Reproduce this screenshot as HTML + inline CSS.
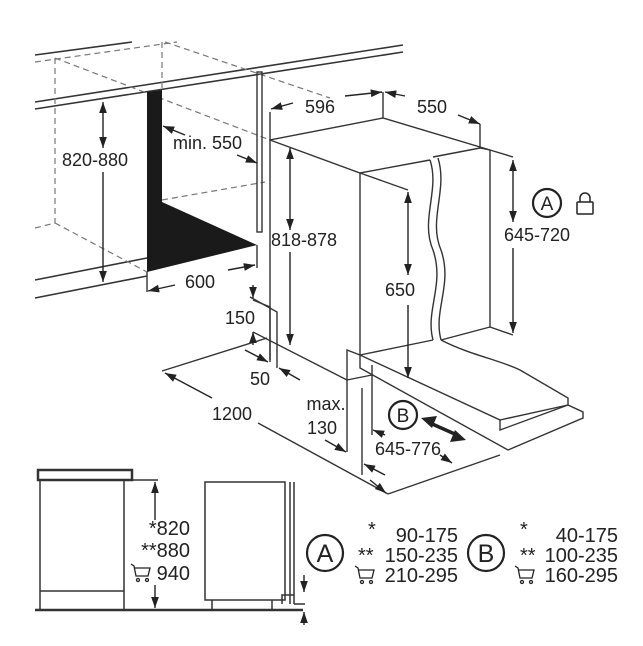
<!DOCTYPE html>
<html><head><meta charset="utf-8"><style>
html,body{margin:0;padding:0;background:#fff}
svg{display:block}
text{font-family:"Liberation Sans",sans-serif;fill:#222}
</style></head><body>
<svg width="643" height="646" viewBox="0 0 643 646" xmlns="http://www.w3.org/2000/svg">
<defs>
<marker id="a" viewBox="0 0 10 10" refX="10" refY="5" markerWidth="8" markerHeight="8" orient="auto-start-reverse"><path d="M0,1.5 L10,5 L0,8.5 Z" fill="#222"/></marker>
</defs>
<g stroke="#333" stroke-width="1.6" fill="none">
<line x1="35" y1="55" x2="132" y2="42"/>
<line x1="35" y1="102" x2="403" y2="45"/>
<line x1="35" y1="109" x2="403" y2="52"/>
<line x1="35" y1="280" x2="147" y2="258"/>
<line x1="35" y1="298" x2="147" y2="276"/>
</g>
<g stroke="#777" stroke-width="1.2" fill="none" stroke-dasharray="6,4">
<line x1="35" y1="62" x2="177" y2="42"/>
<line x1="55" y1="58" x2="55" y2="223"/>
<line x1="162" y1="42" x2="162" y2="90"/>
<line x1="55" y1="58" x2="270" y2="140"/>
<line x1="165" y1="42" x2="330" y2="98"/>
<line x1="35" y1="228" x2="55" y2="223"/>
<line x1="55" y1="223" x2="147" y2="272"/>
<line x1="162" y1="200" x2="265" y2="182"/>
</g>
<polygon points="147,92 162,90 162,202 257,245 147,272" fill="#1a1a1a"/>
<g stroke="#333" stroke-width="1.4" fill="none">
<rect x="257" y="72" width="5" height="160"/>
<line x1="147" y1="272" x2="147" y2="292"/>
<line x1="257" y1="245" x2="257" y2="268"/>
<polyline points="270,360 270,140 383,118 490,150 490,327"/>
<polyline points="270,140 360,173 430,160"/>
<line x1="360" y1="173" x2="360" y2="355"/>
<line x1="383" y1="118" x2="383" y2="92"/>
<line x1="270" y1="140" x2="270" y2="112"/>
<line x1="480" y1="148" x2="480" y2="124"/>
<path d="M430,160 C440,190 420,220 433,250 C445,285 425,310 433,340"/>
<path d="M438,158 C448,190 428,220 441,250 C453,285 433,310 441,340"/>
<path d="M433,157 L480,148 L490,150"/>
<line x1="441" y1="340" x2="490" y2="327"/>
<line x1="360" y1="355" x2="433" y2="340"/>
<line x1="490" y1="327" x2="513" y2="335"/>
<line x1="490" y1="150" x2="513" y2="157"/>
<line x1="360" y1="173" x2="408" y2="190"/>
<path d="M441,340 C470,355 500,360 520,370 L568,398 L568,405 L500,420"/>
<polygon points="360,355 500,420 500,430 568,405 583,412 583,418 508,450 360,368" />
<line x1="372" y1="365" x2="372" y2="380"/>
<polyline points="347,380 347,350 360,355"/>
<line x1="347" y1="380" x2="372" y2="375"/>
<line x1="253" y1="332" x2="347" y2="380"/>
<polyline points="162,371 267,338"/>
<line x1="258" y1="423" x2="388" y2="494"/>
<line x1="388" y1="494" x2="500" y2="455"/>
<line x1="347" y1="380" x2="347" y2="452"/>
<line x1="362" y1="388" x2="362" y2="475"/>
<line x1="372" y1="380" x2="372" y2="435"/>
<polyline points="253,300 270,307 270,362"/>
<polyline points="250,297 277,312 277,368"/>
</g>
<g stroke="#222" stroke-width="1.4" fill="none" marker-end="url(#a)" marker-start="url(#a)">
<line x1="103" y1="102" x2="103" y2="148"/>
<line x1="290" y1="148" x2="290" y2="230"/>
<line x1="513" y1="160" x2="513" y2="222"/>
<line x1="408" y1="192" x2="408" y2="275"/>
</g>
<g stroke="#222" stroke-width="1.4" fill="none" marker-end="url(#a)">
<line x1="103" y1="172" x2="103" y2="282"/>
<line x1="290" y1="252" x2="290" y2="345"/>
<line x1="513" y1="248" x2="513" y2="333"/>
<line x1="408" y1="305" x2="408" y2="378"/>
<line x1="185" y1="135" x2="163" y2="126"/>
<line x1="237" y1="155" x2="257" y2="163"/>
<line x1="175" y1="285" x2="148" y2="291"/>
<line x1="228" y1="270" x2="255" y2="265"/>
<line x1="293" y1="103" x2="271" y2="109"/>
<line x1="345" y1="96" x2="382" y2="92"/>
<line x1="405" y1="96" x2="385" y2="92"/>
<line x1="458" y1="115" x2="480" y2="124"/>
<line x1="253" y1="285" x2="253" y2="298"/>
<line x1="253" y1="345" x2="253" y2="332"/>
<line x1="245" y1="350" x2="268" y2="362"/>
<line x1="300" y1="380" x2="279" y2="368"/>
<line x1="212" y1="398" x2="165" y2="373"/>
<line x1="370" y1="480" x2="386" y2="493"/>
<line x1="325" y1="440" x2="346" y2="452"/>
<line x1="385" y1="475" x2="364" y2="464"/>
<line x1="385" y1="435" x2="373" y2="430"/>
<line x1="440" y1="455" x2="452" y2="463"/>
<line x1="155" y1="520" x2="155" y2="482"/>
<line x1="155" y1="585" x2="155" y2="608"/>
<line x1="304" y1="575" x2="304" y2="592"/>
<line x1="304" y1="625" x2="304" y2="612"/>
</g>
<line x1="430" y1="423" x2="457" y2="435" stroke="#222" stroke-width="3.5"/>
<polygon points="421,418 437,416 432,428" fill="#222"/>
<polygon points="466,440 450,442 455,430" fill="#222"/>
<!-- bottom section -->
<g stroke="#333" stroke-width="1.5" fill="none">
<rect x="38" y="470" width="94" height="10" stroke-width="2.5"/>
<polyline points="40,610 40,480 124,480 124,610"/>
<line x1="40" y1="591" x2="124" y2="591"/>
<line x1="132" y1="480" x2="158" y2="480"/>
<line x1="35" y1="610" x2="303" y2="610" stroke-width="2.5"/>
<rect x="205" y="482" width="80" height="118"/>
<line x1="290" y1="482" x2="290" y2="604"/>
<line x1="294" y1="482" x2="294" y2="604"/>
<polyline points="282,604 282,595 294,595"/>
<line x1="212" y1="600" x2="212" y2="610"/>
<line x1="272" y1="600" x2="272" y2="610"/>
<line x1="294" y1="604" x2="305" y2="604"/>
</g>
<g stroke="#222" stroke-width="2.2" fill="none">
<circle cx="547" cy="203" r="14"/>
<circle cx="403" cy="415" r="14"/>
<circle cx="325" cy="553" r="18"/>
<circle cx="486" cy="553" r="18"/>
</g>
<g stroke="#222" stroke-width="1.5" fill="none">
<rect x="577" y="202" width="16" height="12" rx="1"/>
<path d="M580,202 v-4 a5,5 0 0 1 10,0 v4"/>
</g>
<g font-size="18">
<text x="95" y="166" text-anchor="middle">820-880</text>
<text x="173" y="149">min. 550</text>
<text x="200" y="288" text-anchor="middle">600</text>
<text x="271" y="246">818-878</text>
<text x="320" y="113" text-anchor="middle">596</text>
<text x="432" y="113" text-anchor="middle">550</text>
<text x="537" y="241" text-anchor="middle">645-720</text>
<text x="400" y="296" text-anchor="middle">650</text>
<text x="240" y="324" text-anchor="middle">150</text>
<text x="260" y="385" text-anchor="middle">50</text>
<text x="232" y="420" text-anchor="middle">1200</text>
<text x="326" y="410" text-anchor="middle">max.</text>
<text x="322" y="434" text-anchor="middle">130</text>
<text x="408" y="455" text-anchor="middle">645-776</text>
<text x="547" y="210" text-anchor="middle" font-size="19">A</text>
<text x="403" y="422" text-anchor="middle" font-size="19">B</text>
<text x="325" y="562" text-anchor="middle" font-size="25">A</text>
<text x="486" y="562" text-anchor="middle" font-size="25">B</text>
</g>
<g font-size="20">
<text x="190" y="535" text-anchor="end">*820</text>
<text x="190" y="557" text-anchor="end">**880</text>
<text x="190" y="580" text-anchor="end">940</text>
<text x="368" y="536">*</text>
<text x="458" y="542" text-anchor="end">90-175</text>
<text x="358" y="562">**</text>
<text x="458" y="562" text-anchor="end">150-235</text>
<text x="458" y="582" text-anchor="end">210-295</text>
<text x="520" y="536">*</text>
<text x="618" y="542" text-anchor="end">40-175</text>
<text x="520" y="562">**</text>
<text x="618" y="562" text-anchor="end">100-235</text>
<text x="618" y="582" text-anchor="end">160-295</text>
</g>
<g stroke="#222" stroke-width="1.3" fill="none">
<path d="M131,564 l3,2 l2,10 h12 l2,-8 h-15"/><circle cx="138" cy="580" r="1.5"/><circle cx="147" cy="580" r="1.5"/>
<path d="M355,566 l3,2 l2,10 h12 l2,-8 h-15"/><circle cx="362" cy="582" r="1.5"/><circle cx="371" cy="582" r="1.5"/>
<path d="M515,566 l3,2 l2,10 h12 l2,-8 h-15"/><circle cx="522" cy="582" r="1.5"/><circle cx="531" cy="582" r="1.5"/>
</g>
</svg>
</body></html>
